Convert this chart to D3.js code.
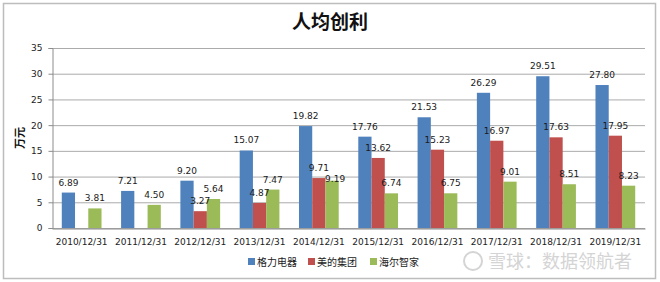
<!DOCTYPE html>
<html>
<head>
    <meta charset="utf-8">
    <title>人均创利</title>
    <script src="https://d3js.org/d3.v7.min.js"></script>
    <style>
        body{margin:0;background:#fff;}
    </style>
</head>
<body>
    <script>
var w=660, h=282;

// 数据
var years=["2010/12/31","2011/12/31","2012/12/31","2013/12/31","2014/12/31","2015/12/31","2016/12/31","2017/12/31","2018/12/31","2019/12/31"];
var seriesNames=["格力电器","美的集团","海尔智家"];
var gree=[6.89,7.21,9.20,15.07,19.82,17.76,21.53,26.29,29.51,27.80];
var midea=[null,null,3.27,4.87,9.71,13.62,15.23,16.97,17.63,17.95];
var haier=[3.81,4.50,5.64,7.47,9.19,6.74,6.75,9.01,8.51,8.23];
var yTicks=[0,5,10,15,20,25,30,35];
var colors=["#4F81BD","#C0504D","#9BBB59"];

var svg=d3.select("body").append("svg")
    .attr("width",w).attr("height",h);

svg.append("rect")
    .attr("x",3.5).attr("y",3.5)
    .attr("width",652).attr("height",275)
    .attr("fill","#fff")
    .attr("stroke","#bdbdbd").attr("stroke-width",1.5);

// 标题
svg.append("text")
    .attr("x",330).attr("y",29)
    .attr("text-anchor","middle")
    .style("font-family","'Noto Sans CJK SC',sans-serif")
    .style("font-size","19px").style("font-weight","bold")
    .style("fill","#111")
    .text("人均创利");

var x0=d3.scaleBand().domain(years).range([52,645]).paddingInner(0.33).paddingOuter(0.165);
var x1=d3.scaleBand().domain([0,1,2]).range([0,x0.bandwidth()]);
var y=d3.scaleLinear().domain([0,35]).range([228,48]);

// 网格线
svg.append("g").selectAll("line")
    .data(yTicks)
    .enter().append("line")
    .attr("x1",52).attr("x2",645)
    .attr("y1",function(d){return y(d)+0.5;})
    .attr("y2",function(d){return y(d)+0.5;})
    .attr("stroke","#ababab").attr("stroke-width",1);

// y轴
var yAxis=svg.append("g")
    .attr("transform","translate(52.5,0)")
    .call(d3.axisLeft(y).tickValues(yTicks).tickSize(4).tickPadding(6));
yAxis.select(".domain").attr("stroke","#8c8c8c");
yAxis.selectAll(".tick line").attr("stroke","#8c8c8c");
yAxis.selectAll("text")
    .style("font-family","'DejaVu Sans',sans-serif")
    .style("font-size","9px").style("fill","#222");

svg.append("text")
    .attr("transform","translate(24,138) rotate(-90)")
    .attr("text-anchor","middle")
    .style("font-family","'Noto Sans CJK SC',sans-serif")
    .style("font-size","11px").style("font-weight","bold")
    .style("fill","#111")
    .text("万元");

// x轴
var xAxis=svg.append("g")
    .attr("transform","translate(0,228.5)")
    .call(d3.axisBottom(x0).tickSize(0).tickPadding(10));
xAxis.select(".domain").attr("stroke","#8c8c8c");
xAxis.selectAll("text")
    .style("font-family","'DejaVu Sans',sans-serif")
    .style("font-size","9px").style("fill","#222");

// 柱子
var all=[gree,midea,haier];
var rows=[];
all.forEach(function(arr,s){
    arr.forEach(function(v,i){
        if(v!==null) rows.push({s:s,i:i,v:v});
    });
});

svg.append("g").selectAll("rect")
    .data(rows)
    .enter().append("rect")
    .attr("x",function(d){return x0(years[d.i])+x1(d.s);})
    .attr("width",x1.bandwidth())
    .attr("y",function(d){return y(d.v);})
    .attr("height",function(d){return y(0)-y(d.v);})
    .attr("fill",function(d){return colors[d.s];});

// 数据标签（2014 海尔标签在原图中偏低，避免与美的重叠）
svg.append("g").selectAll("text")
    .data(rows)
    .enter().append("text")
    .attr("x",function(d){
        var cx=x0(years[d.i])+x1(d.s)+x1.bandwidth()/2;
        return (d.s===2&&d.i===4)?cx+3:cx;
    })
    .attr("y",function(d){
        return (d.s===2&&d.i===4)?y(d.v)+1:y(d.v)-7;
    })
    .attr("text-anchor","middle")
    .style("font-family","'DejaVu Sans',sans-serif")
    .style("font-size","9px").style("fill","#1a1a1a")
    .text(function(d){return d.v.toFixed(2);});

// 图例
var legendX=[248,308,370];
var lg=svg.append("g").selectAll("g")
    .data(seriesNames)
    .enter().append("g")
    .attr("transform",function(d,i){return "translate("+legendX[i]+",262)";});
lg.append("rect")
    .attr("x",0).attr("y",-4).attr("width",7).attr("height",7)
    .attr("fill",function(d,i){return colors[i];});
lg.append("text")
    .attr("x",9).attr("y",4)
    .style("font-family","'Noto Sans CJK SC',sans-serif")
    .style("font-size","10px").style("fill","#222")
    .text(function(d){return d;});

// 水印
svg.append("circle")
    .attr("cx",473).attr("cy",261).attr("r",9)
    .attr("fill","none").attr("stroke","#d4d4d4").attr("stroke-width",2);
svg.append("text")
    .attr("x",488).attr("y",268)
    .style("font-family","'Noto Sans CJK SC',sans-serif")
    .style("font-size","18px").style("fill","#d4d4d4")
    .text("雪球：数据领航者");
    </script>
</body>
</html>
